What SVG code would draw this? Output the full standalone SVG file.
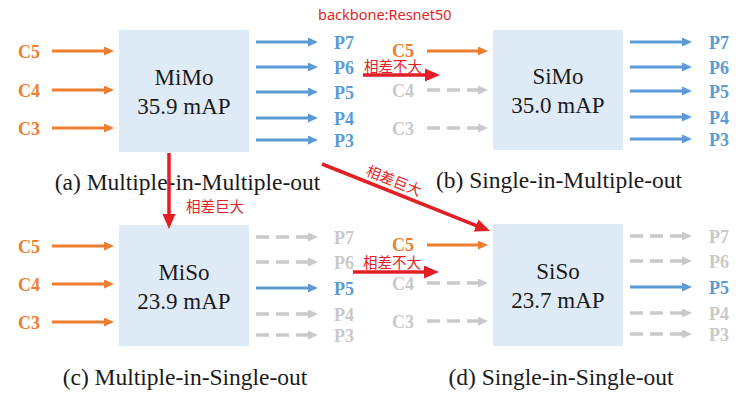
<svg xmlns="http://www.w3.org/2000/svg" width="749" height="403" viewBox="0 0 749 403">
<style>
.box{fill:#DEEBF7}
.bt{font-size:23px;fill:#1a1a1a;text-anchor:middle}
.cap{font-size:23.5px;fill:#1a1a1a;text-anchor:middle}
.lab{font-size:18px;font-weight:bold}
.c{fill:#ED7D31;text-anchor:middle}
.cg{fill:#C9C9C9;text-anchor:middle}
.p{fill:#5B9BD5}
.pg{fill:#C9C9C9}
.o{stroke:#ED7D31;stroke-width:3;fill:none;marker-end:url(#ao)}
.b{stroke:#5B9BD5;stroke-width:3;fill:none;marker-end:url(#ab)}
.g{stroke:#C9C9C9;stroke-width:3.5;fill:none;stroke-dasharray:13 7;marker-end:url(#ag)}
.r{stroke:#E31E24;stroke-width:3.5;fill:none;marker-end:url(#ar)}
.rt{font-size:14.5px;fill:#E31E24}
</style>
<defs>
<marker id="ao" markerUnits="userSpaceOnUse" markerWidth="10" markerHeight="9" refX="2" refY="4.5" orient="auto"><path d="M0,0 L10,4.5 L0,9 z" fill="#ED7D31"/></marker>
<marker id="ab" markerUnits="userSpaceOnUse" markerWidth="10" markerHeight="9" refX="2" refY="4.5" orient="auto"><path d="M0,0 L10,4.5 L0,9 z" fill="#5B9BD5"/></marker>
<marker id="ag" markerUnits="userSpaceOnUse" markerWidth="10" markerHeight="9" refX="2" refY="4.5" orient="auto"><path d="M0,0 L10,4.5 L0,9 z" fill="#C9C9C9"/></marker>
<marker id="ar" markerUnits="userSpaceOnUse" markerWidth="15" markerHeight="13" refX="3" refY="6.5" orient="auto"><path d="M0,0 L15,6.5 L0,13 z" fill="#E31E24"/></marker>
</defs>

<g id="mimo" font-family="Liberation Serif, Times New Roman, serif">
<rect class="box" x="119" y="30" width="130" height="122"/>
<text class="bt" x="184" y="85">MiMo</text>
<text class="bt" x="184" y="114">35.9 mAP</text>
<text class="lab c" x="29" y="57.5">C5</text>
<text class="lab c" x="29" y="96.5">C4</text>
<text class="lab c" x="29" y="134.5">C3</text>
<text class="lab p" x="334" y="48.5">P7</text>
<text class="lab p" x="334" y="73.5">P6</text>
<text class="lab p" x="334" y="98.5">P5</text>
<text class="lab p" x="334" y="124.5">P4</text>
<text class="lab p" x="334" y="146.5">P3</text>
<text class="cap" x="187.5" y="190">(a) Multiple-in-Multiple-out</text>
</g>

<g id="simo" font-family="Liberation Serif, Times New Roman, serif">
<rect class="box" x="493" y="30" width="130" height="120"/>
<text class="bt" x="558" y="84">SiMo</text>
<text class="bt" x="558" y="113">35.0 mAP</text>
<text class="lab c" x="403" y="56.5">C5</text>
<text class="lab cg" x="403" y="96.5">C4</text>
<text class="lab cg" x="403" y="134.5">C3</text>
<text class="lab p" x="709" y="48.5">P7</text>
<text class="lab p" x="709" y="73.5">P6</text>
<text class="lab p" x="709" y="97.5">P5</text>
<text class="lab p" x="709" y="123.5">P4</text>
<text class="lab p" x="709" y="145.5">P3</text>
<text class="cap" x="559" y="188">(b) Single-in-Multiple-out</text>
</g>

<g id="miso" font-family="Liberation Serif, Times New Roman, serif">
<rect class="box" x="119" y="225" width="130" height="121"/>
<text class="bt" x="184" y="280">MiSo</text>
<text class="bt" x="184" y="309">23.9 mAP</text>
<text class="lab c" x="29" y="252.5">C5</text>
<text class="lab c" x="29" y="290.5">C4</text>
<text class="lab c" x="29" y="328.5">C3</text>
<text class="lab pg" x="334" y="243.5">P7</text>
<text class="lab pg" x="334" y="268.5">P6</text>
<text class="lab p" x="334" y="294.5">P5</text>
<text class="lab pg" x="334" y="320.5">P4</text>
<text class="lab pg" x="334" y="341.5">P3</text>
<text class="cap" x="185" y="385">(c) Multiple-in-Single-out</text>
</g>

<g id="siso" font-family="Liberation Serif, Times New Roman, serif">
<rect class="box" x="493" y="224" width="130" height="122"/>
<text class="bt" x="558" y="279">SiSo</text>
<text class="bt" x="558" y="308">23.7 mAP</text>
<text class="lab c" x="403" y="250.5">C5</text>
<text class="lab cg" x="403" y="289.5">C4</text>
<text class="lab cg" x="403" y="327.5">C3</text>
<text class="lab pg" x="709" y="242.5">P7</text>
<text class="lab pg" x="709" y="267.5">P6</text>
<text class="lab p" x="709" y="293.5">P5</text>
<text class="lab pg" x="709" y="319.5">P4</text>
<text class="lab pg" x="709" y="340.5">P3</text>
<text class="cap" x="561" y="385">(d) Single-in-Single-out</text>
</g>

<g id="annotations" font-family="Noto Sans, Noto Sans CJK SC, sans-serif">
<text class="rt" x="318" y="20">backbone:Resnet50</text>
<text class="rt" x="364" y="71.5">相差不大</text>
<text class="rt" x="363" y="267.5">相差不大</text>
<text class="rt" x="186" y="212">相差巨大</text>
<text class="rt" x="365" y="175" transform="rotate(21.7 365 175)">相差巨大</text>
</g>

<g id="connectors">
<line class="o" x1="52" y1="51" x2="106" y2="51"/>
<line class="o" x1="52" y1="90" x2="106" y2="90"/>
<line class="o" x1="52" y1="128" x2="106" y2="128"/>
<line class="b" x1="256" y1="42" x2="310" y2="42"/>
<line class="b" x1="256" y1="67" x2="310" y2="67"/>
<line class="b" x1="256" y1="92" x2="310" y2="92"/>
<line class="b" x1="256" y1="118" x2="310" y2="118"/>
<line class="b" x1="256" y1="140" x2="310" y2="140"/>
<line class="o" x1="427" y1="51" x2="480" y2="51"/>
<line class="g" x1="427" y1="90" x2="480" y2="90"/>
<line class="g" x1="427" y1="128" x2="480" y2="128"/>
<line class="b" x1="630" y1="42" x2="684" y2="42"/>
<line class="b" x1="630" y1="67" x2="684" y2="67"/>
<line class="b" x1="630" y1="91" x2="684" y2="91"/>
<line class="b" x1="630" y1="117" x2="684" y2="117"/>
<line class="b" x1="630" y1="139" x2="684" y2="139"/>
<line class="o" x1="52" y1="246" x2="106" y2="246"/>
<line class="o" x1="52" y1="284" x2="106" y2="284"/>
<line class="o" x1="52" y1="322" x2="106" y2="322"/>
<line class="g" x1="256" y1="237" x2="310" y2="237"/>
<line class="g" x1="256" y1="262" x2="310" y2="262"/>
<line class="b" x1="256" y1="288" x2="310" y2="288"/>
<line class="g" x1="256" y1="314" x2="310" y2="314"/>
<line class="g" x1="256" y1="335" x2="310" y2="335"/>
<line class="o" x1="427" y1="245" x2="480" y2="245"/>
<line class="g" x1="427" y1="283" x2="480" y2="283"/>
<line class="g" x1="427" y1="321" x2="480" y2="321"/>
<line class="g" x1="630" y1="236" x2="684" y2="236"/>
<line class="g" x1="630" y1="261" x2="684" y2="261"/>
<line class="b" x1="630" y1="287" x2="684" y2="287"/>
<line class="g" x1="630" y1="313" x2="684" y2="313"/>
<line class="g" x1="630" y1="334" x2="684" y2="334"/>
<line class="r" x1="363" y1="75" x2="428" y2="75"/>
<line class="r" x1="353" y1="272" x2="427" y2="272"/>
<line class="r" x1="169" y1="153" x2="169" y2="217"/>
<line class="r" x1="322" y1="164" x2="478.9" y2="226.6"/>
</g>
</svg>
